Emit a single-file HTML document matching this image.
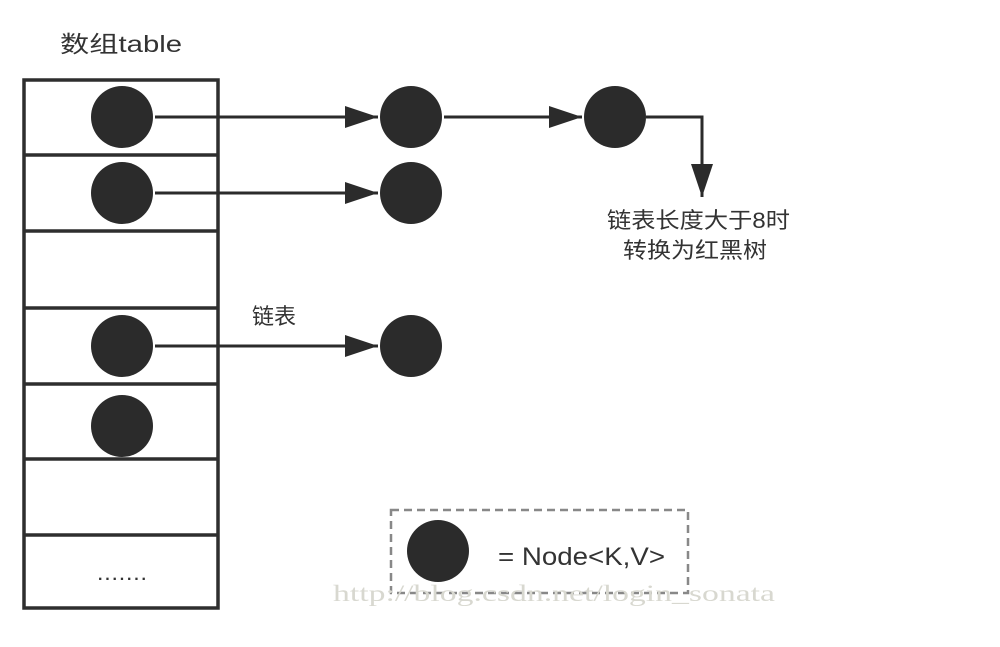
<!DOCTYPE html>
<html><head><meta charset="utf-8"><style>
html,body{margin:0;padding:0;background:#fff;}
svg{display:block}
</style></head><body>
<svg width="1000" height="647" viewBox="0 0 1000 647" xmlns="http://www.w3.org/2000/svg">
<defs>
<marker id="a" markerWidth="34" markerHeight="22" refX="33" refY="11" orient="auto" markerUnits="userSpaceOnUse">
<path d="M0,0 L33,11 L0,22 Z" fill="#2b2b2b"/>
</marker>
</defs>
<text x="60" y="52" textLength="122" lengthAdjust="spacingAndGlyphs" font-family="'Liberation Sans','Noto Sans CJK SC',sans-serif" font-size="23" fill="#333">数组table</text>
<g stroke="#2e2e2e" stroke-width="3.5" fill="none">
<rect x="24" y="80" width="194" height="528"/>
<line x1="24" y1="155" x2="218" y2="155"/>
<line x1="24" y1="231" x2="218" y2="231"/>
<line x1="24" y1="308" x2="218" y2="308"/>
<line x1="24" y1="384" x2="218" y2="384"/>
<line x1="24" y1="459" x2="218" y2="459"/>
<line x1="24" y1="535" x2="218" y2="535"/>
</g>
<g fill="#2b2b2b">
<circle cx="122" cy="117" r="31"/>
<circle cx="122" cy="193" r="31"/>
<circle cx="122" cy="346" r="31"/>
<circle cx="122" cy="426" r="31"/>
<circle cx="411" cy="117" r="31"/>
<circle cx="411" cy="193" r="31"/>
<circle cx="411" cy="346" r="31"/>
<circle cx="615" cy="117" r="31"/>
<circle cx="438" cy="551" r="31"/>
</g>
<g stroke="#2b2b2b" stroke-width="3" fill="none">
<line x1="155" y1="117" x2="378" y2="117" marker-end="url(#a)"/>
<line x1="155" y1="193" x2="378" y2="193" marker-end="url(#a)"/>
<line x1="155" y1="346" x2="378" y2="346" marker-end="url(#a)"/>
<line x1="444" y1="117" x2="582" y2="117" marker-end="url(#a)"/>
<polyline points="646,117 702,117 702,197" marker-end="url(#a)"/>
</g>
<text x="252" y="324" font-family="'Liberation Sans','Noto Sans CJK SC',sans-serif" font-size="22" fill="#333">链表</text>
<text x="607" y="228" textLength="183" lengthAdjust="spacingAndGlyphs" font-family="'Liberation Sans','Noto Sans CJK SC',sans-serif" font-size="22" fill="#333">链表长度大于8时</text>
<text x="623" y="258" textLength="144" lengthAdjust="spacingAndGlyphs" font-family="'Liberation Sans','Noto Sans CJK SC',sans-serif" font-size="22" fill="#333">转换为红黑树</text>
<text x="98" y="580" textLength="48" lengthAdjust="spacing" font-family="'Liberation Sans',sans-serif" font-size="16" font-weight="bold" fill="#333">.......</text>
<rect x="391" y="510" width="297" height="83" fill="none" stroke="#888" stroke-width="2.5" stroke-dasharray="8,5"/>
<text x="498" y="565" textLength="167" lengthAdjust="spacingAndGlyphs" font-family="'Liberation Sans',sans-serif" font-size="25" fill="#333">= Node&lt;K,V&gt;</text>
<text x="333" y="601" textLength="442" lengthAdjust="spacingAndGlyphs" font-family="'Liberation Serif',serif" font-size="23" fill="#d8d8d0">http://blog.csdn.net/login_sonata</text>
</svg>
</body></html>
